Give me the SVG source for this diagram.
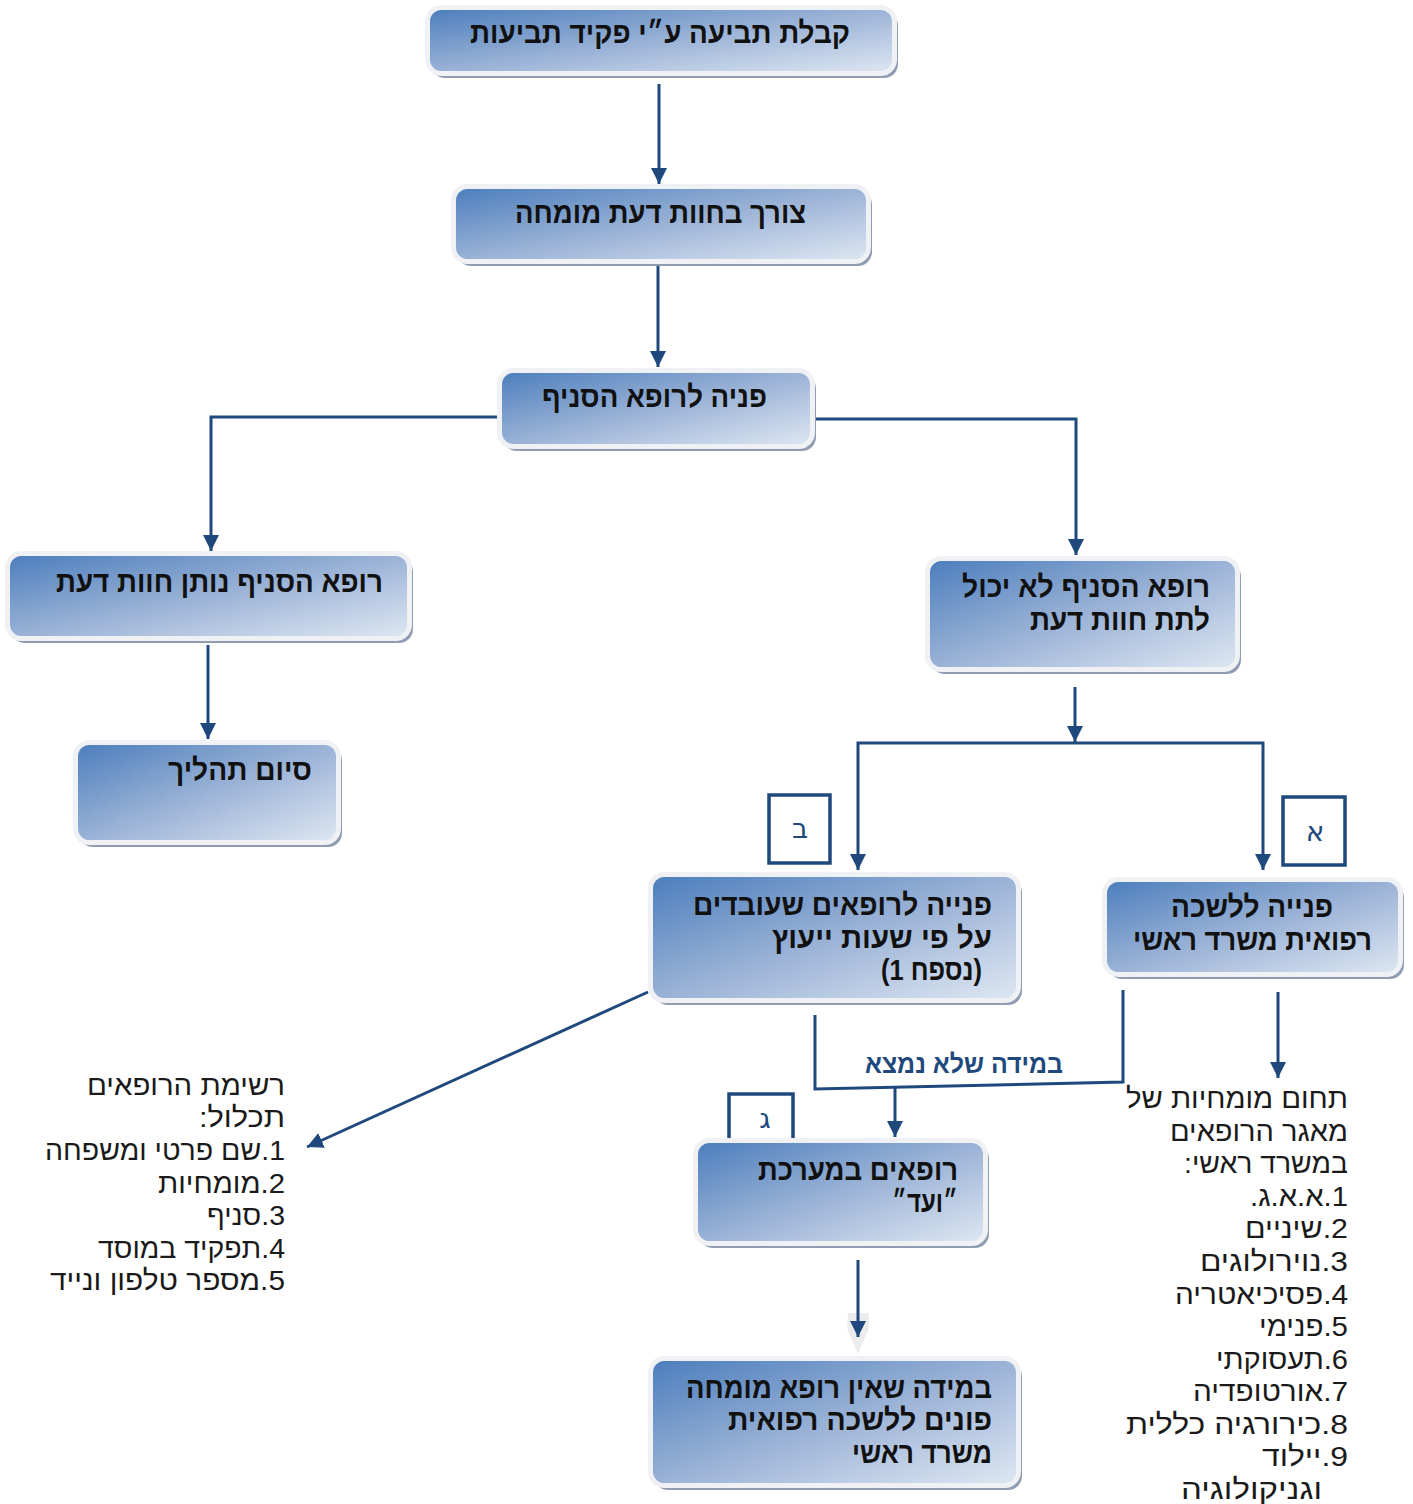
<svg xmlns="http://www.w3.org/2000/svg" width="1413" height="1504" viewBox="0 0 1413 1504">
<defs>
<linearGradient id="gf" x1="0" y1="0" x2="1" y2="1">
<stop offset="0" stop-color="#4a7dbc"/>
<stop offset="0.5" stop-color="#9ab2d6"/>
<stop offset="1" stop-color="#dfe8f3"/>
</linearGradient>
<marker id="ar" markerUnits="userSpaceOnUse" markerWidth="16" markerHeight="16" viewBox="0 0 16 16" refX="16" refY="8" orient="auto">
<path d="M0,0 L16,8 L0,16 z" fill="#1f497d"/>
</marker>
<style>
.sh{fill:#8f9cb1}
.bx{fill:url(#gf);stroke:#eff1f4;stroke-width:5}
.bt{font-family:"Liberation Sans","DejaVu Sans",sans-serif;font-weight:bold;font-size:30px;fill:#111;direction:rtl}
.lt{font-family:"Liberation Sans","DejaVu Sans",sans-serif;font-size:28px;fill:#1a1a1a;direction:rtl}
.c{fill:none;stroke:#1f497d;stroke-width:3}
.ca{fill:none;stroke:#1f497d;stroke-width:3;marker-end:url(#ar)}
.lb{fill:#fff;stroke:#1f497d;stroke-width:3.5}
.lbt{font-family:"DejaVu Sans","Liberation Sans",sans-serif;font-size:28px;fill:#1f497d;text-anchor:middle}
</style>
</defs>
<rect width="1413" height="1504" fill="#fff"/>

<g id="labels">
<g id="lab-b"><rect class="lb" x="769" y="795" width="61" height="68"/><text class="lbt" x="800" y="838">ב</text></g>
<g id="lab-a"><rect class="lb" x="1283" y="797" width="62" height="68"/><text class="lbt" x="1315" y="841">א</text></g>
<g id="lab-g"><rect class="lb" x="729" y="1094" width="64" height="50"/><text class="lbt" x="765" y="1128">ג</text></g>
</g>

<g id="connectors">
<path class="ca" d="M659,84 V184"/>
<path class="ca" d="M658,265 V367"/>
<path class="ca" d="M497,417 H211 V551"/>
<path class="ca" d="M815,419 H1076 V555"/>
<path class="ca" d="M208,645 V739"/>
<path class="ca" d="M1075,687 V742"/>
<path class="ca" d="M1075,743 H858 V870"/>
<path class="ca" d="M1075,743 H1263 V870"/>
<path class="ca" d="M648,992 L307,1147"/>
<path class="ca" d="M1278,992 V1078"/>
<path class="c" d="M815,1015 V1089 L1123,1082 V990"/>
<path class="ca" d="M895,1087 V1137"/>
<polygon points="848,1313 869,1313 869,1328 858,1354 847,1328" fill="#ececec"/>
<path class="ca" d="M858,1260 V1337"/>
<text x="1063" y="1073" style="font-family:'Liberation Sans','DejaVu Sans',sans-serif;font-size:26px;font-weight:bold;fill:#1f497d;direction:rtl" text-anchor="start" textLength="198" lengthAdjust="spacingAndGlyphs">במידה שלא נמצא</text>
</g>

<g id="n1"><rect class="sh" x="431" y="12" width="467" height="66" rx="14"/><rect class="bx" x="427.5" y="7.5" width="467" height="66" rx="14"/>
<text class="bt" x="850" y="43" text-anchor="start" textLength="380" lengthAdjust="spacingAndGlyphs">קבלת תביעה ע״י פקיד תביעות</text></g>

<g id="n2"><rect class="sh" x="457" y="191" width="415" height="75" rx="14"/><rect class="bx" x="453.5" y="186.5" width="415" height="75" rx="14"/>
<text class="bt" x="806" y="223" text-anchor="start" textLength="291" lengthAdjust="spacingAndGlyphs">צורך בחוות דעת מומחה</text></g>

<g id="n3"><rect class="sh" x="503" y="375" width="313" height="76" rx="14"/><rect class="bx" x="499.5" y="370.5" width="313" height="76" rx="14"/>
<text class="bt" x="767" y="407" text-anchor="start" textLength="225" lengthAdjust="spacingAndGlyphs">פניה לרופא הסניף</text></g>

<g id="n4"><rect class="sh" x="11" y="558" width="402" height="85" rx="14"/><rect class="bx" x="7.5" y="553.5" width="402" height="85" rx="14"/>
<text class="bt" x="383" y="592" text-anchor="start" textLength="327" lengthAdjust="spacingAndGlyphs">רופא הסניף נותן חוות דעת</text></g>

<g id="n5"><rect class="sh" x="79" y="747" width="263" height="100" rx="14"/><rect class="bx" x="75.5" y="742.5" width="263" height="100" rx="14"/>
<text class="bt" x="312" y="780" text-anchor="start" textLength="144" lengthAdjust="spacingAndGlyphs">סיום תהליך</text></g>

<g id="n6"><rect class="sh" x="931" y="563" width="310" height="111" rx="14"/><rect class="bx" x="927.5" y="558.5" width="310" height="111" rx="14"/>
<text class="bt" x="1210" y="597" text-anchor="start" textLength="248" lengthAdjust="spacingAndGlyphs">רופא הסניף לא יכול</text>
<text class="bt" x="1210" y="630" text-anchor="start" textLength="180" lengthAdjust="spacingAndGlyphs">לתת חוות דעת</text></g>

<g id="n7"><rect class="sh" x="654" y="879" width="368" height="126" rx="14"/><rect class="bx" x="650.5" y="874.5" width="368" height="126" rx="14"/>
<text class="bt" x="992" y="915" text-anchor="start" textLength="299" lengthAdjust="spacingAndGlyphs">פנייה לרופאים שעובדים</text>
<text class="bt" x="992" y="948" text-anchor="start" textLength="220" lengthAdjust="spacingAndGlyphs">על פי שעות ייעוץ</text>
<text class="bt" x="982" y="980" text-anchor="start" textLength="101" lengthAdjust="spacingAndGlyphs">(נספח 1)</text></g>

<g id="n8"><rect class="sh" x="1108" y="884" width="296" height="95" rx="14"/><rect class="bx" x="1104.5" y="879.5" width="296" height="95" rx="14"/>
<text class="bt" x="1333" y="917" text-anchor="start" textLength="162" lengthAdjust="spacingAndGlyphs">פנייה ללשכה</text>
<text class="bt" x="1372" y="950" text-anchor="start" textLength="239" lengthAdjust="spacingAndGlyphs">רפואית משרד ראשי</text></g>

<g id="n9"><rect class="sh" x="699" y="1145" width="290" height="103" rx="14"/><rect class="bx" x="695.5" y="1140.5" width="290" height="103" rx="14"/>
<text class="bt" x="958" y="1180" text-anchor="start" textLength="200" lengthAdjust="spacingAndGlyphs">רופאים במערכת</text>
<text class="bt" x="958" y="1212" text-anchor="start" textLength="66" lengthAdjust="spacingAndGlyphs">״ועד״</text></g>

<g id="n10"><rect class="sh" x="654" y="1363" width="368" height="127" rx="14"/><rect class="bx" x="650.5" y="1358.5" width="368" height="127" rx="14"/>
<text class="bt" x="992" y="1398" text-anchor="start" textLength="306" lengthAdjust="spacingAndGlyphs">במידה שאין רופא מומחה</text>
<text class="bt" x="992" y="1430" text-anchor="start" textLength="264" lengthAdjust="spacingAndGlyphs">פונים ללשכה רפואית</text>
<text class="bt" x="992" y="1463" text-anchor="start" textLength="140" lengthAdjust="spacingAndGlyphs">משרד ראשי</text></g>

<g id="list-left">
<text class="lt" x="285" y="1095" text-anchor="start" textLength="198" lengthAdjust="spacingAndGlyphs">רשימת הרופאים</text>
<text class="lt" x="285" y="1127" text-anchor="start" textLength="86" lengthAdjust="spacingAndGlyphs">תכלול:</text>
<text class="lt" x="285" y="1160" text-anchor="start" textLength="240" lengthAdjust="spacingAndGlyphs">1.שם פרטי ומשפחה</text>
<text class="lt" x="285" y="1193" text-anchor="start" textLength="127" lengthAdjust="spacingAndGlyphs">2.מומחיות</text>
<text class="lt" x="285" y="1225" text-anchor="start" textLength="78" lengthAdjust="spacingAndGlyphs">3.סניף</text>
<text class="lt" x="285" y="1258" text-anchor="start" textLength="187" lengthAdjust="spacingAndGlyphs">4.תפקיד במוסד</text>
<text class="lt" x="285" y="1290" text-anchor="start" textLength="235" lengthAdjust="spacingAndGlyphs">5.מספר טלפון ונייד</text>
</g>

<g id="list-right">
<text class="lt" x="1348" y="1108" text-anchor="start" textLength="222" lengthAdjust="spacingAndGlyphs">תחום מומחיות של</text>
<text class="lt" x="1348" y="1141" text-anchor="start" textLength="178" lengthAdjust="spacingAndGlyphs">מאגר הרופאים</text>
<text class="lt" x="1348" y="1173" text-anchor="start" textLength="164" lengthAdjust="spacingAndGlyphs">במשרד ראשי:</text>
<text class="lt" x="1348" y="1206" text-anchor="start" textLength="98" lengthAdjust="spacingAndGlyphs">1.א.א.ג.</text>
<text class="lt" x="1348" y="1238" text-anchor="start" textLength="103" lengthAdjust="spacingAndGlyphs">2.שיניים</text>
<text class="lt" x="1348" y="1271" text-anchor="start" textLength="148" lengthAdjust="spacingAndGlyphs">3.נוירולוגים</text>
<text class="lt" x="1348" y="1304" text-anchor="start" textLength="173" lengthAdjust="spacingAndGlyphs">4.פסיכיאטריה</text>
<text class="lt" x="1348" y="1336" text-anchor="start" textLength="89" lengthAdjust="spacingAndGlyphs">5.פנימי</text>
<text class="lt" x="1348" y="1369" text-anchor="start" textLength="132" lengthAdjust="spacingAndGlyphs">6.תעסוקתי</text>
<text class="lt" x="1348" y="1401" text-anchor="start" textLength="155" lengthAdjust="spacingAndGlyphs">7.אורטופדיה</text>
<text class="lt" x="1348" y="1434" text-anchor="start" textLength="222" lengthAdjust="spacingAndGlyphs">8.כירורגיה כללית</text>
<text class="lt" x="1348" y="1466" text-anchor="start" textLength="86" lengthAdjust="spacingAndGlyphs">9.יילוד</text>
<text class="lt" x="1322" y="1499" text-anchor="start" textLength="141" lengthAdjust="spacingAndGlyphs">וגניקולוגיה</text>
</g>
</svg>
